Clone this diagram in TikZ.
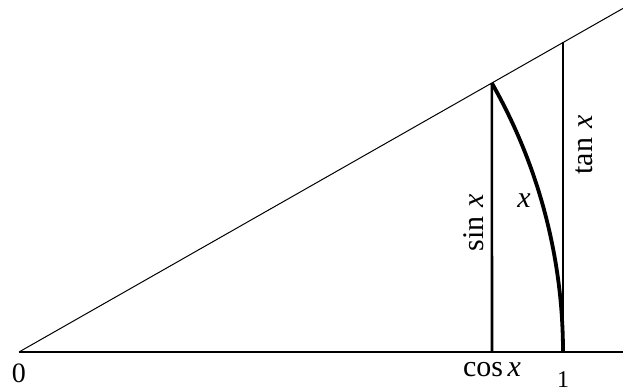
\documentclass[tikz,border=0pt]{standalone}
\usepackage{fontspec}
\setmainfont{Liberation Serif}
\usetikzlibrary{positioning,calc}

\begin{document}
\begin{tikzpicture}[
    x=1pt, y=1pt,
    axis/.style={line width=1.4pt},
    ray/.style={line width=1pt},
    side/.style={line width=2.6pt},
    arcline/.style={line width=3.8pt},
    lbl/.style={font=\fontsize{30}{32}\selectfont, inner sep=0pt},
    num/.style={font=\fontsize{24}{26}\selectfont, inner sep=0pt}
  ]
    \useasboundingbox (-19,-39) rectangle (604,352);

    \coordinate (origin) at (0,0);
    \coordinate (axisend) at (604,0);
    \coordinate (rayend) at (604,343.6);
    \coordinate (cosfoot) at (473,0);
    \coordinate (sintop) at (29.63:544);
    \coordinate (unit) at (544,0);
    \coordinate (tantop) at (544,309.5);

    \draw[axis] (origin) -- (axisend);
    \draw[ray] (origin) -- (rayend);
    \draw[side] (cosfoot) -- (sintop);
    \draw[side] (unit) -- (tantop);
    \draw[arcline] (sintop) arc[start angle=29.63, end angle=0, radius=544];

    \node[lbl, rotate=90] (sinlbl) at (455,129) {sin\hspace{0.3em}\textit{x}};
    \node[lbl] (arclbl) at (505,151) {\textit{x}};
    \node[lbl, rotate=90] (tanlbl) at (565,207) {tan\hspace{0.3em}\textit{x}};
    \node[lbl, below=10pt of cosfoot] (coslbl) {cos\hspace{0.15em}\textit{x}};
    \node[num, below=19pt of unit] (onelbl) {1};
    \node[lbl, font=\fontsize{28}{30}\selectfont, below=12pt of origin] (zerolbl) {0};
  \end{tikzpicture}
\end{document}
